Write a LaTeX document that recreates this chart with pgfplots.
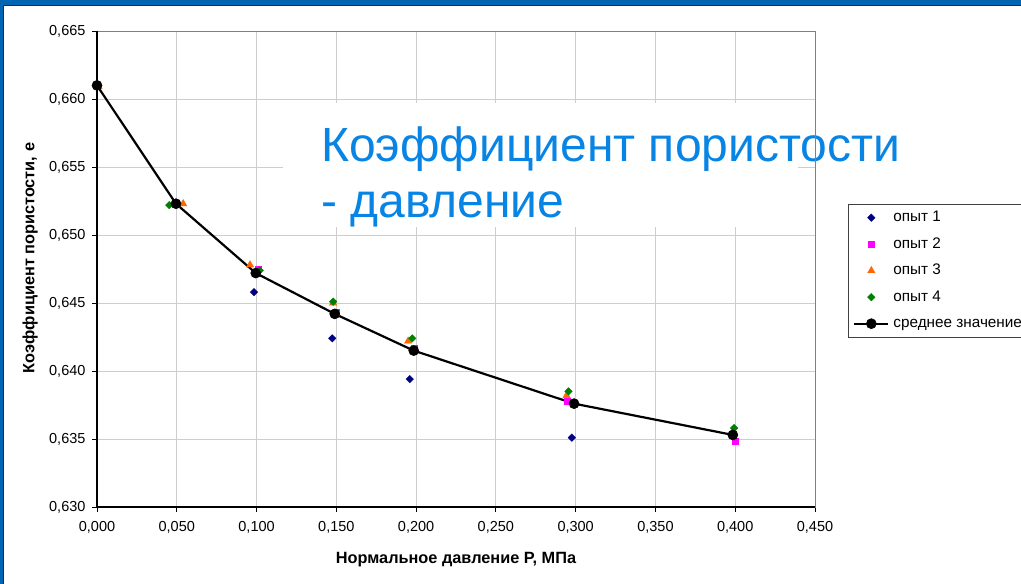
\documentclass[border=0pt]{standalone}
\usepackage{fontspec}
\setmainfont{Liberation Sans}
\usepackage{pgfplots}
\pgfplotsset{compat=1.18}
\definecolor{frameblue}{RGB}{0,102,179}
\definecolor{titleblue}{RGB}{8,132,228}
\definecolor{gridgray}{RGB}{205,205,205}
\definecolor{sA}{RGB}{0,0,128}
\definecolor{sB}{RGB}{255,0,255}
\definecolor{sC}{RGB}{255,102,0}
\definecolor{sD}{RGB}{0,128,0}
\begin{document}
\begin{tikzpicture}[x=1pt,y=1pt]
\useasboundingbox (0,0) rectangle (1021,584);
\fill[white] (0,0) rectangle (1021,584);
\begin{axis}[
  at={(97pt,77pt)}, anchor=south west,
  scale only axis, width=718pt, height=476pt,
  xmin=0, xmax=0.45, ymin=0.630, ymax=0.665,
  xtick={0,0.05,0.1,0.15,0.2,0.25,0.3,0.35,0.4,0.45},
  ytick={0.630,0.635,0.640,0.645,0.650,0.655,0.660,0.665},
  grid=major, grid style={gridgray, line width=0.9pt},
  axis line style={draw=black!50, line width=0.8pt},
  tick pos=left, tick align=outside, major tick length=5pt,
  tick style={black, line width=0.8pt},
  /pgf/number format/fixed,
  /pgf/number format/fixed zerofill,
  /pgf/number format/precision=3,
  /pgf/number format/use comma,
  /pgf/number format/assume math mode=true,
  ticklabel style={font=\fontsize{14.5}{17}\selectfont},
  yticklabel style={xshift=-3pt},
  xticklabel style={yshift=-6pt},
  xlabel={Нормальное давление P, МПа},
  ylabel={Коэффициент пористости, е},
  label style={font=\bfseries\fontsize{16.3}{19}\selectfont},
  xlabel style={at={(axis description cs:0.5,-0.111)}, anchor=center},
  ylabel style={at={(axis description cs:-0.093,0.523)}, anchor=center},
  clip=false,
  legend style={at={(1.046,0.6366)}, anchor=north west, draw=black!75, thin, fill=white,
    font=\fontsize{15.3}{18}\selectfont, inner xsep=5pt, inner ysep=5.5pt,
    row sep=10.5pt, column sep=4pt,
    nodes={inner sep=0pt, text height=12pt, text depth=4pt}},
  legend cell align=left,
  legend image code/.code={\draw[mark repeat=2, mark phase=2] plot coordinates {(0pt,0pt) (17pt,0pt) (34pt,0pt)};},
]
\draw[black, line width=1.2pt] (rel axis cs:0,0) -- (rel axis cs:0,1);
\draw[black, line width=1.2pt] (rel axis cs:0,0) -- (rel axis cs:1,0);
\addplot[only marks, mark=square*, mark size=2.7pt, mark options={rotate=45, draw=sA, fill=sA, line width=0.3pt}]
  coordinates {(0,0.6610) (0.0495,0.6523) (0.0984,0.6458) (0.1474,0.6424) (0.196,0.6394) (0.2976,0.6351)};
\addlegendentry{опыт 1}
\addplot[only marks, mark=square*, mark size=3.1pt, mark options={draw=sB, fill=sB, line width=0.3pt}]
  coordinates {(0,0.6610) (0.0495,0.6523) (0.101,0.6475) (0.150,0.6443) (0.1988,0.6417) (0.2949,0.6378) (0.3998,0.63485)};
\addlegendentry{опыт 2}
\addplot[only marks, mark=triangle*, mark size=4.3pt, mark options={draw=sC, fill=sC, line width=0.3pt}]
  coordinates {(0.001,0.6609) (0.054,0.6523) (0.0959,0.6478) (0.148,0.6450) (0.195,0.6422) (0.2943,0.6382)};
\addlegendentry{опыт 3}
\addplot[only marks, mark=square*, mark size=2.7pt, mark options={rotate=45, draw=sD, fill=sD, line width=0.3pt}]
  coordinates {(0,0.6610) (0.0453,0.6522) (0.102,0.6474) (0.148,0.6451) (0.1976,0.6424) (0.2955,0.6385) (0.3993,0.6358)};
\addlegendentry{опыт 4}
\addplot[black, line width=2.2pt, mark=*, mark size=5pt, mark options={solid, line width=0.6pt, fill=black}]
  coordinates {(0,0.6610) (0.0495,0.6523) (0.0995,0.6472) (0.149,0.6442) (0.1985,0.6415) (0.299,0.6376) (0.3985,0.6353)};
\addlegendentry{среднее значение}
\end{axis}
% title box
\fill[white] (283,357) rectangle (798,481);
\node[anchor=base west, inner sep=0pt, text=titleblue, font=\fontsize{48}{56}\selectfont] at (321,422.3) {Коэффициент пористости};
\node[anchor=base west, inner sep=0pt, text=titleblue, font=\fontsize{48}{56}\selectfont] at (321,366.5) {- давление};
\draw[black!50, line width=0.8pt] (815,357) -- (815,481);
% slide frame
\fill[frameblue] (0,579) rectangle (1021,584);
\fill[frameblue] (0,0) rectangle (3,584);
\draw[black!85, line width=1pt] (3.5,0) -- (3.5,578.5) -- (1021,578.5);
\end{tikzpicture}
\end{document}
